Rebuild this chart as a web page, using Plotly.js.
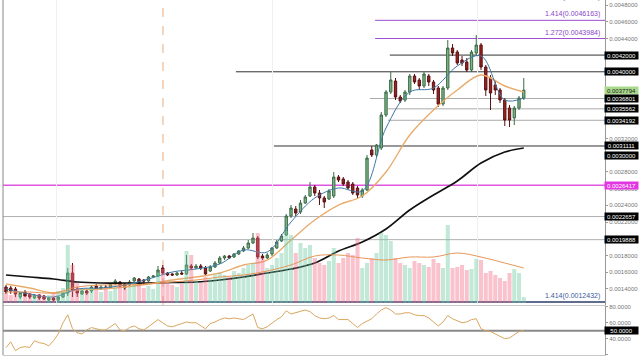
<!DOCTYPE html>
<html><head><meta charset="utf-8">
<script src="https://cdn.plot.ly/plotly-3.0.1.min.js"></script>
<style>html,body{margin:0;padding:0;background:#fff}#chart{width:640px;height:357px}</style>
</head><body><div id="chart"></div>
<script>
// ---- candle data (one per bar) ----
const openP = [
0.0014217,0.0014098,0.0013978,0.0013019,0.0013618,0.0013379,0.0012900,0.0013259,0.0013139,0.0012660,
0.0012900,0.0012660,0.0013019,0.0013499,0.0015895,0.0013978,0.0013379,0.0013738,0.0013738,0.0014337,
0.0013978,0.0014217,0.0014098,0.0014577,0.0014816,0.0014577,0.0014457,0.0014936,0.0015176,0.0015056,
0.0014936,0.0015415,0.0015535,0.0016494,0.0015895,0.0015775,0.0015655,0.0015895,0.0015775,0.0016733,
0.0016494,0.0016733,0.0016494,0.0016134,0.0016613,0.0017093,0.0017692,0.0017931,0.0017811,0.0018171,
0.0018530,0.0018890,0.0019489,0.0020088,0.0017931,0.0017692,0.0018171,0.0018890,0.0019728,0.0020447,
0.0022723,0.0023562,0.0023202,0.0024281,0.0025119,0.0026197,0.0025479,0.0024880,0.0024760,0.0025119,
0.0027395,0.0027156,0.0026796,0.0026557,0.0026078,0.0025119,0.0025838,0.0030630,0.0030031,0.0030870,
0.0034823,0.0037578,0.0038896,0.0036979,0.0036620,0.0037578,0.0039495,0.0039016,0.0038297,0.0039495,
0.0038776,0.0038058,0.0036141,0.0038058,0.0042850,0.0042370,0.0041412,0.0041172,0.0040214,0.0042251,
0.0043209,0.0040573,0.0039256,0.0038417,0.0037818,0.0036620,0.0035662,0.0034464,0.0035662,0.0036860];
const closeP = [
0.0013618,0.0013738,0.0013379,0.0013499,0.0013139,0.0013019,0.0013259,0.0012900,0.0012780,0.0012900,
0.0012660,0.0013019,0.0013499,0.0015895,0.0013858,0.0013499,0.0013738,0.0013499,0.0014217,0.0013978,
0.0014217,0.0014098,0.0014577,0.0014936,0.0014337,0.0014098,0.0014816,0.0015296,0.0014816,0.0014936,
0.0015415,0.0015535,0.0016254,0.0015895,0.0015655,0.0015655,0.0015895,0.0015775,0.0016853,0.0016494,
0.0016733,0.0016494,0.0015775,0.0016613,0.0017093,0.0017692,0.0017931,0.0017692,0.0018171,0.0018530,
0.0018890,0.0019489,0.0020088,0.0017811,0.0017692,0.0018051,0.0018890,0.0019608,0.0020327,0.0022723,
0.0023682,0.0023083,0.0024281,0.0025000,0.0026197,0.0025479,0.0024880,0.0024401,0.0025718,0.0027395,
0.0027036,0.0026557,0.0026078,0.0025479,0.0025239,0.0025838,0.0029672,0.0030031,0.0031229,0.0034823,
0.0037578,0.0039016,0.0036979,0.0036500,0.0037578,0.0039495,0.0038776,0.0038297,0.0039735,0.0038776,
0.0037818,0.0036141,0.0038058,0.0042850,0.0042251,0.0041053,0.0041053,0.0040214,0.0042370,0.0043209,
0.0040573,0.0037818,0.0037459,0.0037818,0.0036620,0.0034224,0.0034224,0.0035662,0.0036860,0.0037794];
const highP = [
0.0014457,0.0014337,0.0014217,0.0013618,0.0013858,0.0013499,0.0013379,0.0013379,0.0013259,0.0013019,
0.0013019,0.0013139,0.0013618,0.0016494,0.0017093,0.0014217,0.0013858,0.0013858,0.0014457,0.0014577,
0.0014457,0.0014457,0.0014697,0.0015176,0.0014936,0.0014697,0.0015056,0.0015415,0.0015296,0.0015176,
0.0015535,0.0015655,0.0016733,0.0016853,0.0016014,0.0015895,0.0016014,0.0016134,0.0018051,0.0016973,
0.0016973,0.0016973,0.0016733,0.0016853,0.0017332,0.0017931,0.0018051,0.0018051,0.0018291,0.0018650,
0.0019129,0.0019848,0.0020687,0.0020327,0.0018171,0.0018291,0.0019009,0.0019848,0.0020567,0.0022963,
0.0024041,0.0023921,0.0024640,0.0025239,0.0026796,0.0026437,0.0025838,0.0025119,0.0025958,0.0027994,
0.0027635,0.0027395,0.0027036,0.0026796,0.0026317,0.0026078,0.0030031,0.0031109,0.0031349,0.0035182,
0.0037818,0.0039974,0.0039256,0.0037219,0.0037818,0.0039735,0.0039735,0.0039256,0.0039974,0.0039735,
0.0039016,0.0038297,0.0038297,0.0043808,0.0043329,0.0042610,0.0041891,0.0041652,0.0042610,0.0044407,
0.0043449,0.0040813,0.0039615,0.0039016,0.0038058,0.0036860,0.0036021,0.0035901,0.0037099,0.0039256];
const lowP = [
0.0013379,0.0013379,0.0013019,0.0012780,0.0013019,0.0012780,0.0012780,0.0012660,0.0012660,0.0012540,
0.0012540,0.0012540,0.0012900,0.0013139,0.0013019,0.0013019,0.0013259,0.0013259,0.0013499,0.0013858,
0.0013858,0.0013978,0.0013978,0.0014457,0.0014217,0.0013858,0.0014337,0.0014816,0.0014577,0.0014697,
0.0014816,0.0015296,0.0015415,0.0015655,0.0015535,0.0015535,0.0015535,0.0015655,0.0015655,0.0016254,
0.0016374,0.0016254,0.0015535,0.0016014,0.0016494,0.0016973,0.0017452,0.0017572,0.0017692,0.0018051,
0.0018410,0.0018770,0.0019369,0.0017572,0.0017452,0.0017572,0.0017931,0.0018770,0.0019608,0.0020327,
0.0022484,0.0022723,0.0022963,0.0024161,0.0025000,0.0025119,0.0024041,0.0023682,0.0024640,0.0024880,
0.0026796,0.0026317,0.0025838,0.0025239,0.0024880,0.0024880,0.0025718,0.0029791,0.0029791,0.0030630,
0.0034583,0.0037339,0.0036620,0.0036261,0.0036380,0.0037219,0.0038537,0.0037818,0.0038058,0.0038297,
0.0037339,0.0035781,0.0035901,0.0037818,0.0041891,0.0040813,0.0040693,0.0039974,0.0039974,0.0041891,
0.0040214,0.0037099,0.0035422,0.0037219,0.0036261,0.0033505,0.0033385,0.0033625,0.0035422,0.0036620];
const volume = [
10,8,12,9,7,10,8,9,7,8,
10,12,15,58,38,20,14,12,15,13,
11,14,12,15,18,14,16,20,18,15,
17,14,30,34,20,18,16,19,52,48,
22,20,26,24,28,30,28,26,32,30,
35,38,40,70,45,35,38,45,50,72,
68,50,60,55,58,45,40,38,42,55,
40,45,50,48,65,35,40,45,50,70,
68,62,45,40,38,35,42,40,38,36,
44,40,35,78,35,36,38,33,34,44,
43,30,32,28,25,22,30,34,30,6];
const rsi = [
28.75,36,25,29,30,29,37.5,35,34,31,
37.5,46,60,70,52.5,47.5,46,51,54,52.5,
51,51,55,59,51,50,54,56,52.5,51,
55,59,64,60,56,55,57.5,59,61,60,
60,56,52.5,59,61,64,66,65,66,65,
64,67.5,71,54,52.5,55,60,64,67.5,75,
71,72.5,74,76,74,69,66,65,66,69,
64,64,64,59,54,59,62.5,65,71,76,
79,76,71,71,72.5,72.5,70,69,69,66,
61,56,61,69,65,62.5,60,61,64,65,
52.5,50,49,46,42.5,40,41,45,49,50];
// ---- moving averages read at every 5th bar ----
const maIdx   = [0,5,10,15,20,25,30,35,40,45,50,55,60,65,70,75,80,85,90,95,100,105,109];
const ma200   = [0.0015655,0.0015415,0.0015176,0.0014816,0.0014697,0.0014697,0.0014697,0.0014757,0.0014816,0.0015056,0.0015415,0.0015895,0.0016374,0.0017093,0.0018530,0.0019608,0.0021166,0.0023442,0.0025239,0.0026916,0.0029073,0.0030390,0.0030870];
const emaSlow = [0.0014577,0.0014098,0.0013499,0.0013858,0.0013978,0.0014217,0.0014577,0.0015056,0.0015415,0.0015895,0.0016853,0.0017452,0.0019848,0.0022244,0.0024041,0.0025119,0.0027994,0.0032427,0.0035422,0.0037818,0.0039615,0.0038297,0.0037578];
const emaFast = [0.0013978,0.0013379,0.0013019,0.0013978,0.0014098,0.0014457,0.0015176,0.0016014,0.0016374,0.0016973,0.0018650,0.0018410,0.0022004,0.0024880,0.0026078,0.0025718,0.0033265,0.0037578,0.0038058,0.0040693,0.0041891,0.0036620,0.0036860];
const volMa   = [11,11,10,16,18,18,19,21,23,26,28,32,38,47,48,45,43,46,46,50,46,40,35];
// ---- levels and axis labels ----
const levelPrices = [0.0046163,0.0043984,0.0042,0.0040,0.0036801,0.0035562,0.0034192,0.0031111,0.0026417,0.0022657,0.0019888,0.0012432];
const boxPrices = [0.0042,0.0040,0.0037794,0.0036801,0.0035562,0.0034192,0.0031111,0.0030,0.0026417,0.0022657,0.0019888];
const priceTicks = [0.0014,0.0016,0.0018,0.0022,0.0024,0.0026,0.0028,0.0032,0.0044,0.0046,0.0048];
const rsiTicks = [20,40,60,80];
const fibTexts = ['1.618(0.0049294)','1.414(0.0046163)','1.272(0.0043984)','1.414(0.0012432)'];
const fibPrices = [0.0049294,0.0046163,0.0043984,0.0012432];
const rsiLevel = 50;

const N = closeP.length;
const idx = Array.from({length:N},(_,i)=>i);
const volColors = idx.map(i => closeP[i] >= openP[i] ? 'rgba(110,200,160,0.42)' : 'rgba(240,110,135,0.42)');

const traces = [
 {type:'bar', x:idx, y:volume, yaxis:'y3', marker:{color:volColors, line:{width:0}}, width:0.85, hoverinfo:'skip'},
 {type:'scatter', mode:'lines', x:maIdx, y:volMa, yaxis:'y3', line:{color:'#e8965a', width:1, shape:'spline'}, hoverinfo:'skip'},
 {type:'scatter', mode:'lines', x:maIdx, y:ma200, line:{color:'#111', width:1.7, shape:'spline'}, hoverinfo:'skip'},
 {type:'scatter', mode:'lines', x:maIdx, y:emaSlow, line:{color:'#e9ac6c', width:1.4, shape:'spline'}, hoverinfo:'skip'},
 {type:'scatter', mode:'lines', x:maIdx, y:emaFast, line:{color:'#3f78a6', width:1, shape:'spline'}, hoverinfo:'skip'},
 {type:'candlestick', x:idx, open:openP, high:highP, low:lowP, close:closeP,
  increasing:{line:{color:'#3c6b45', width:1}, fillcolor:'#7db68a'},
  decreasing:{line:{color:'#5a1010', width:1}, fillcolor:'#9a2222'}, hoverinfo:'skip'},
 {type:'scatter', mode:'lines', x:idx, y:rsi, xaxis:'x2', yaxis:'y2', line:{color:'#d9a760', width:1}, hoverinfo:'skip'}
];

// level styles: [start index, color, width]
const levelStyle = [
 [77.7,'#9b4fd0',1],[77.7,'#9b4fd0',1],[80.8,'#333',1],[48.4,'#333',1],
 [76.6,'#aaa',1],[80.4,'#aaa',1],[80.4,'#aaa',1],[56.4,'#333',1],
 [-2,'#e055e0',1.5],[-2,'#b0b0b0',1],[-2,'#b0b0b0',1],[-2,'#2b3a6b',1.5]];
const shapes = levelPrices.map((p,k)=>({type:'line', xref:'x', yref:'y', x0:levelStyle[k][0], x1:200, y0:p, y1:p,
  line:{color:levelStyle[k][1], width:levelStyle[k][2]}, layer:'below'}));
shapes.push({type:'line', xref:'x2', yref:'y2', x0:-2, x1:200, y0:rsiLevel, y1:rsiLevel, line:{color:'#8a8a8a', width:2}, layer:'below'});
shapes.push({type:'line', xref:'x', yref:'y domain', x0:33.05, x1:33.05, y0:0, y1:1, line:{color:'#f1c9a5', width:1.5, dash:'dash'}, layer:'below'});
shapes.push({type:'line', xref:'paper', yref:'paper', x0:0, x1:0, y0:0, y1:1, line:{color:'#888', width:1}});

const annotations = [];
const boxFont = c => ({color:c, size:6, family:'Liberation Sans, Arial'});
boxPrices.forEach(p=>{
  let bg='#000', fc='#fff';
  if (p===0.0037794){bg='#a9d98a'; fc='#222';}
  if (p===0.0026417){bg='#e236e2'; fc='#fff';}
  annotations.push({xref:'paper', yref:'y', x:1, y:p, xanchor:'left', yanchor:'middle', xshift:-1,
    text:p.toFixed(7), showarrow:false, bgcolor:bg, font:boxFont(fc), width:32, height:6, borderpad:0.5});
});
annotations.push({xref:'paper', yref:'y2', x:1, y:rsiLevel, xanchor:'left', yanchor:'middle', xshift:-1,
  text:rsiLevel.toFixed(4), showarrow:false, bgcolor:'#000', font:boxFont('#fff'), width:32, height:6, borderpad:0.5});
const fibColors = ['#8a45c8','#8a45c8','#8a45c8','#3a5a9a'];
fibTexts.forEach((t,k)=>{
  const yp = k===0 ? 0.004824 : fibPrices[k];
  annotations.push({xref:'paper', yref:'y', x:0.995, y:yp, xanchor:'right', yanchor:'bottom',
    text:t, showarrow:false, font:{color:fibColors[k], size:7, family:'Liberation Sans, Arial'}});
});

const axisFont = {size:6, color:'#777', family:'Liberation Sans, Arial'};
const layout = {
  width:640, height:357, margin:{l:3, r:35, t:0, b:2},
  paper_bgcolor:'#fff', plot_bgcolor:'#fff', showlegend:false,
  xaxis:{domain:[0,1], anchor:'y', range:[-0.63,126.1], rangeslider:{visible:false},
    tickvals:[10.7,56,99.2], showticklabels:false, ticks:'', showgrid:true, gridcolor:'#f1f1f1',
    zeroline:false, showline:true, linecolor:'#dcdcdc'},
  xaxis2:{domain:[0,1], anchor:'y2', matches:'x', range:[-0.63,126.1], showticklabels:false, ticks:'',
    showgrid:false, zeroline:false, showline:true, mirror:true, linecolor:'#c8c8c8'},
  yaxis:{domain:[0.1408,1], side:'right', range:[0.001206,0.00486], tickvals:priceTicks, tickformat:'.7f',
    ticks:'outside', ticklen:2, tickcolor:'#999', tickfont:axisFont, showline:true, linecolor:'#999',
    showgrid:false, zeroline:false},
  yaxis2:{domain:[0,0.138], side:'right', range:[19.6,81], tickvals:rsiTicks, tickformat:'.4f',
    ticks:'outside', ticklen:2, tickcolor:'#999', tickfont:axisFont, showline:true, linecolor:'#999',
    showgrid:false, zeroline:false},
  yaxis3:{overlaying:'y', range:[-2,303], visible:false, showgrid:false, zeroline:false},
  shapes:shapes, annotations:annotations
};
Plotly.newPlot('chart', traces, layout, {displayModeBar:false, staticPlot:true});
</script></body></html>
